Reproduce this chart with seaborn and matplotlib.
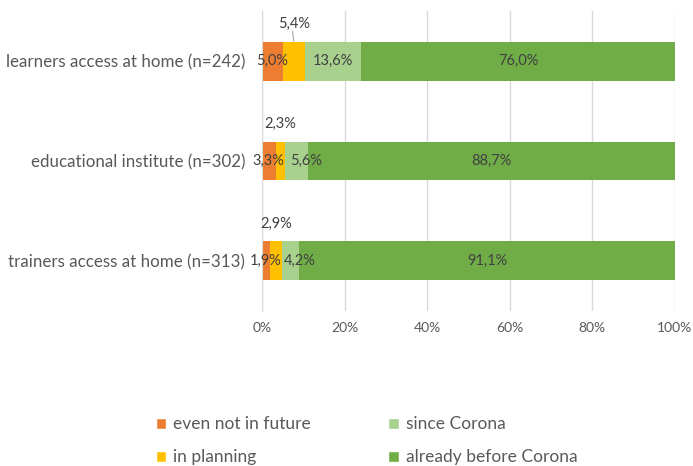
import numpy as np
import pandas as pd
import matplotlib.pyplot as plt
from matplotlib.patches import Patch
import seaborn as sns

# values (percent)
categories = [
    "learners access at home (n=242)",
    "educational institute (n=302)",
    "trainers access at home (n=313)",
]
series_names = ["even not in future", "in planning", "since Corona", "already before Corona"]
even_not = [5.0, 3.3, 1.9]
in_planning = [5.4, 2.3, 2.9]
since_corona = [13.6, 5.6, 4.2]
before_corona = [76.0, 88.7, 91.1]
colors = ["#ED7D31", "#FFC000", "#A9D18E", "#70AD47"]
xticks = [0, 20, 40, 60, 80, 100]

sns.set_style("white")
plt.rcParams["font.family"] = ["Lato", "DejaVu Sans"]

df = pd.DataFrame({
    "category": categories,
    series_names[0]: even_not,
    series_names[1]: in_planning,
    series_names[2]: since_corona,
    series_names[3]: before_corona,
})
cum = df[series_names].cumsum(axis=1)
start = cum - df[series_names]

fig = plt.figure(figsize=(6.93, 4.66), dpi=100)
ax = fig.add_axes([0.378, 0.333, 0.596, 0.643])

# stacked bars: draw cumulative totals, widest first
for name, color in reversed(list(zip(series_names, colors))):
    sns.barplot(x=cum[name], y=df["category"], color=color, width=0.39,
                saturation=1, orient="h", linewidth=0, ax=ax)

def fmt(v):
    return f"{v:.1f}%".replace(".", ",")

txt = "#404040"
for j in range(len(categories)):
    for name in series_names:
        v = df.loc[j, name]
        xc = start.loc[j, name] + v / 2
        if name == "in planning":
            ax.text(xc, j - 0.37, fmt(v), ha="center", va="center", fontsize=10.5, color=txt)
            if j == 0:
                ax.plot([xc, xc - 0.3], [j - 0.2, j - 0.3], color="#A6A6A6", lw=0.8)
        else:
            dx = 7 if (name == "since Corona" and v < 7) else 0
            ax.annotate(fmt(v), (xc, j), xytext=(dx, 0), textcoords="offset points",
                        ha="center", va="center", fontsize=10.5, color=txt)

ax.set_xlim(0, 100)
ax.set_ylim(2.5, -0.5)
ax.set_xticks(xticks)
ax.set_xticklabels([f"{t}%" for t in xticks])
ax.set_xlabel("")
ax.set_ylabel("")
ax.grid(axis="x", color="#D9D9D9", lw=1)
ax.set_axisbelow(True)
for s in ["top", "right", "bottom"]:
    ax.spines[s].set_visible(False)
ax.spines["left"].set_color("#D9D9D9")
ax.tick_params(axis="y", length=0, pad=12, labelsize=12.2, labelcolor="#595959")
ax.tick_params(axis="x", length=0, pad=8, labelsize=10, labelcolor="#595959")

handles = [Patch(facecolor=c, label=n) for n, c in zip(series_names, colors)]
fig.legend(handles=handles, loc="upper left", bbox_to_anchor=(0.225, 0.107), ncol=2,
           frameon=False, fontsize=12.5, handlelength=0.6, handleheight=0.6,
           handletextpad=0.4, labelspacing=1.0, columnspacing=4.45,
           labelcolor="#595959", borderpad=0, borderaxespad=0)

fig.savefig("out.png", dpi=100)
